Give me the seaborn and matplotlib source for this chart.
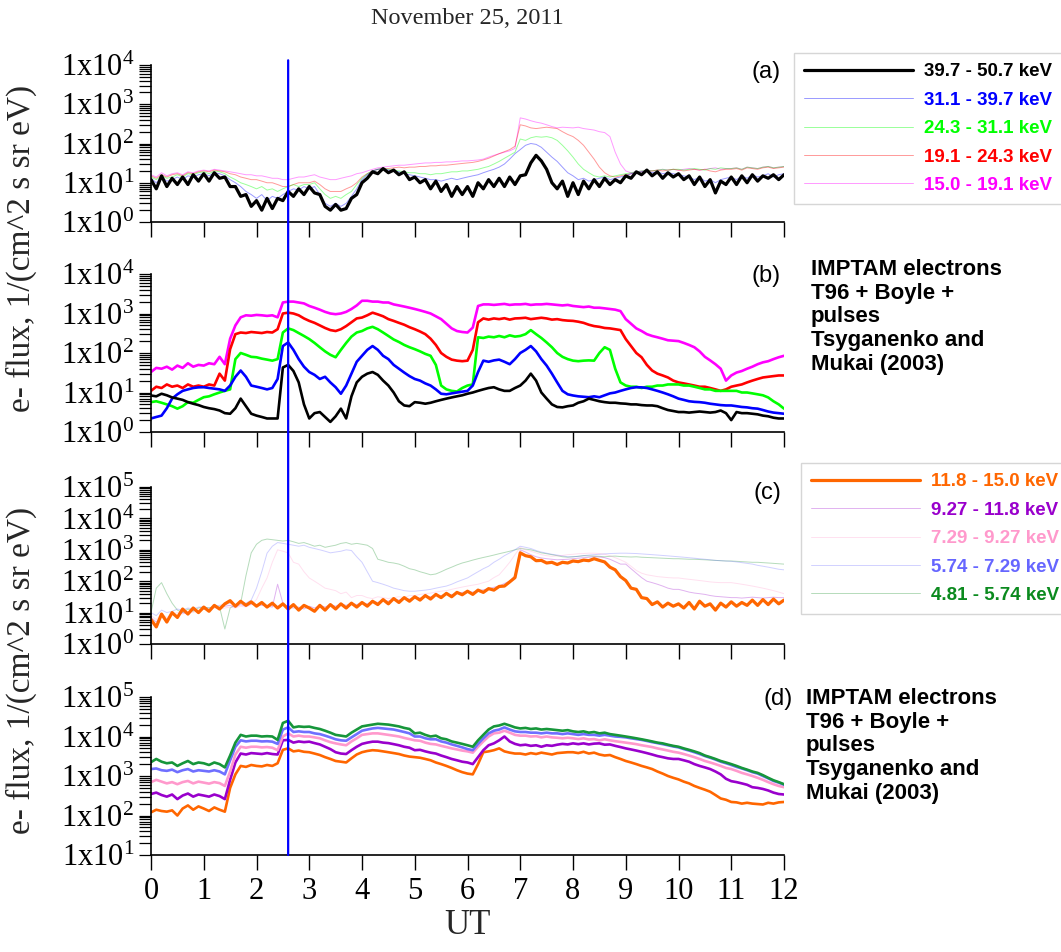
import numpy as np
import pandas as pd
import matplotlib
matplotlib.use("Agg")
import matplotlib.pyplot as plt
import seaborn as sns
from matplotlib.ticker import FixedLocator, LogLocator, FuncFormatter, NullFormatter
from matplotlib.patches import ConnectionPatch
from matplotlib.transforms import blended_transform_factory

# ---------------- data (UT hours, sampled every 0.1 h) ----------------
UT = np.round(np.arange(0, 121) / 10.0, 1)
ut_ticks = list(range(0, 13))
event_ut = 2.6

title = "November 25, 2011"
ylabel = "e- flux, 1/(cm^2 s sr eV)"
model_text = "IMPTAM electrons\nT96 + Boyle +\npulses\nTsyganenko and\nMukai (2003)"

# panel (a): observed, high energies
a_labels = ["39.7 - 50.7 keV", "31.1 - 39.7 keV", "24.3 - 31.1 keV", "19.1 - 24.3 keV", "15.0 - 19.1 keV"]
a_e1 = [12, 7, 15, 8, 13, 9, 14, 9, 16, 11,
        17, 11, 18, 13, 14, 8, 8, 4.5, 5, 2.5,
        3.5, 2, 4, 2.2, 4, 3.5, 6, 4.5, 7, 5,
        8, 5.5, 5, 2.5, 2, 2.8, 2, 2.2, 4, 5,
        10, 13, 19, 17, 23, 18, 21, 16, 19, 12,
        14, 10, 12, 7, 11, 6, 9, 4.5, 8, 5,
        8, 4.5, 10, 7, 12, 8, 13, 8, 14, 9,
        15, 16, 32, 50, 36, 22, 10, 7, 11, 4.5,
        10, 5, 11, 7, 12, 8, 13, 9, 12, 10,
        15, 13, 19, 16, 21, 15, 19, 13, 18, 14,
        17, 12, 15, 9, 14, 8, 12, 5.5, 11, 9,
        14, 9, 15, 10, 16, 11, 15, 13, 16, 12,
        16]
a_e2 = [13, 10, 14, 11, 12, 14, 12, 15, 14, 16,
        17, 15, 18, 17, 15, 12, 10, 8, 6, 5,
        4, 5, 3.5, 4.5, 4, 5, 6, 7, 6.5, 8,
        7, 8, 5, 3, 2.5, 3, 2.5, 3, 4.5, 7,
        12, 16, 20, 22, 23, 21, 20, 19, 17, 16,
        15, 14, 13, 12, 12, 11, 12, 13, 12, 13,
        14, 15, 16, 18, 20, 22, 25, 30, 40, 55,
        70, 90, 100, 95, 80, 60, 45, 35, 25, 18,
        15, 12, 13, 11, 12, 13, 14, 12, 13, 14,
        15, 17, 18, 19, 20, 18, 19, 17, 18, 17,
        16, 15, 14, 12, 14, 11, 12, 10, 12, 13,
        14, 12, 15, 13, 16, 14, 15, 17, 14, 16,
        17]
a_e3 = [14, 12, 15, 13, 14, 16, 14, 17, 16, 18,
        19, 17, 20, 19, 17, 14, 12, 10, 9, 8,
        7, 8, 6.5, 7, 6, 7, 8, 9, 8, 9,
        9, 10, 7, 5, 4, 4.5, 4, 5, 6, 9,
        13, 17, 20, 22, 23, 22, 21, 20, 19, 18,
        18, 17, 17, 16, 17, 17, 18, 19, 19, 20,
        20, 21, 22, 24, 26, 30, 35, 42, 50, 60,
        130, 120, 140, 150, 145, 150, 140, 120, 90, 65,
        45, 30, 22, 18, 15, 14, 15, 14, 15, 16,
        17, 18, 19, 20, 21, 20, 21, 22, 21, 22,
        22, 21, 22, 23, 22, 21, 23, 22, 24, 23,
        23, 24, 22, 25, 24, 23, 25, 26, 24, 25,
        26]
a_e4 = [15, 13, 16, 14, 16, 17, 15, 18, 17, 19,
        20, 19, 21, 20, 19, 17, 16, 14, 13, 12,
        12, 11, 10, 10, 9, 8, 8, 9, 10, 10,
        10, 11, 9, 7, 6, 6, 6, 7, 8, 10,
        14, 17, 20, 22, 23, 23, 24, 25, 24, 25,
        25, 26, 26, 27, 27, 28, 28, 29, 30, 31,
        32, 33, 35, 38, 42, 48, 55, 62, 70, 85,
        300, 280, 250, 240, 250, 260, 250, 240, 200, 170,
        150, 120, 90, 60, 40, 25, 18, 15, 14, 15,
        16, 17, 18, 19, 20, 20, 21, 20, 21, 22,
        21, 20, 21, 22, 21, 22, 20, 19, 21, 22,
        22, 23, 21, 24, 23, 22, 24, 25, 23, 24,
        25]
a_e5 = [16, 14, 18, 15, 17, 18, 16, 19, 18, 20,
        21, 20, 22, 21, 20, 19, 18, 17, 16, 16,
        15, 15, 14, 13, 13, 12, 12, 13, 14, 14,
        15, 16, 14, 13, 12, 12, 13, 14, 15, 17,
        18, 20, 22, 24, 25, 26, 27, 28, 28, 29,
        30, 31, 32, 32, 33, 33, 34, 34, 35, 36,
        36, 37, 38, 40, 45, 50, 55, 60, 65, 75,
        450, 420, 380, 350, 330, 300, 270, 250, 260, 255,
        250, 260, 240, 230, 220, 200, 190, 150, 60, 30,
        20, 18, 19, 20, 21, 20, 21, 22, 21, 22,
        21, 22, 23, 22, 21, 22, 23, 24, 22, 23,
        23, 24, 22, 25, 24, 23, 25, 26, 24, 25,
        26]

# panel (b): model, high energies
b_e1 = [8.4, 8, 9.3, 8.5, 7.5, 7, 6.5, 5.7, 5.2, 4.8,
        4.3, 4, 3.8, 3.5, 3, 2.9, 4, 7, 4.5, 2.9,
        2.6, 2.4, 2.2, 2.2, 2.2, 43, 50, 35, 18, 5,
        2.2, 3, 3.2, 2.4, 1.8, 2.5, 3.9, 2.2, 8, 18,
        25, 30, 33, 28, 20, 15, 10, 6, 4.7, 4.5,
        5.7, 5.5, 5.2, 5.5, 6, 6.5, 7, 7.5, 8, 8.5,
        9.3, 10, 11, 12, 13, 13.6, 12, 11, 11, 13,
        15, 20, 30, 20, 10, 7, 5, 4.3, 4.2, 4.5,
        4.7, 5.5, 6, 7, 6.5, 6, 5.7, 5.5, 5.5, 5.3,
        5.2, 5, 5, 4.8, 4.7, 4.7, 4.5, 4, 3.6, 3.4,
        3.2, 3.2, 3.1, 3.2, 3.3, 3.2, 3.1, 3.2, 3.5, 3,
        2, 3.2, 3, 3, 2.9, 2.8, 2.6, 2.5, 2.3, 2.2,
        2.2]
b_e2 = [2.2, 2.4, 2.6, 4, 7, 9, 11, 12, 13, 13.5,
        13.6, 13, 12.5, 12, 11, 15, 25, 36, 25, 15,
        14, 13, 12, 13, 22, 150, 185, 120, 70, 45,
        33, 28, 22, 25, 18, 13.6, 9.3, 15, 30, 60,
        85, 120, 150, 120, 85, 70, 50, 40, 32, 26,
        22, 20, 17, 15, 12, 9.3, 9, 9.5, 10, 10.5,
        11, 15, 33, 64, 60, 65, 68, 60, 52, 70,
        100, 120, 150, 110, 70, 48, 30, 18, 11, 9,
        8.4, 8, 7.8, 7.6, 8, 7.6, 8.5, 9.5, 10, 11,
        12, 13, 13.6, 13.5, 13, 12, 11, 10, 9, 8,
        7, 6.5, 6, 5.8, 5.7, 5.5, 5.2, 5, 4.8, 4.7,
        4.7, 4.5, 4.3, 4.2, 4, 3.9, 3.6, 3.3, 3.1, 3,
        2.9]
b_e3 = [5.7, 6, 5.5, 5, 4.5, 3.9, 4.5, 5.7, 5.5, 6.5,
        7.6, 8, 9, 10, 11, 12, 70, 100, 90, 80,
        78, 72, 68, 64, 70, 330, 420, 380, 320, 270,
        225, 180, 140, 110, 90, 78, 120, 180, 260, 330,
        360, 420, 460, 400, 330, 270, 220, 190, 160, 140,
        125, 110, 95, 85, 50, 15, 12, 11, 10.6, 13,
        15, 16, 250, 240, 260, 250, 270, 250, 280, 260,
        270, 300, 380, 300, 240, 185, 140, 100, 80, 70,
        64, 62, 64, 65, 64, 100, 140, 120, 40, 18,
        15, 14, 14, 13, 14, 14, 15, 15, 16, 16,
        16, 15, 15, 14, 13, 12, 12, 11, 11, 11,
        11, 11, 10, 10, 9.5, 9, 8.5, 7.5, 6, 5,
        3.9]
b_e4 = [11, 14, 13, 16, 14, 15, 13, 16, 14, 15,
        14, 16, 15, 30, 20, 125, 300, 330, 320, 340,
        330, 320, 340, 330, 400, 1000, 1050, 1000, 900, 750,
        650, 580, 500, 430, 380, 360, 400, 480, 600, 750,
        790, 900, 1050, 950, 850, 720, 650, 580, 520, 450,
        400, 350, 300, 230, 160, 100, 80, 68, 64, 62,
        64, 120, 600, 750, 700, 750, 720, 760, 700, 750,
        760, 780, 720, 750, 780, 750, 700, 720, 680, 660,
        650, 620, 580, 520, 480, 460, 430, 420, 400, 380,
        225, 150, 100, 78, 50, 36, 30, 27, 24, 20,
        18, 17, 16, 15, 14, 14, 13, 12, 11, 12,
        14, 15, 16, 18, 20, 22, 24, 25, 26, 27,
        27]
b_e5 = [33, 42, 40, 45, 38, 48, 42, 55, 45, 50,
        48, 55, 52, 80, 52, 230, 500, 800, 900, 880,
        920, 900, 870, 900, 800, 1900, 2000, 2000, 1900, 1800,
        1550, 1400, 1250, 1100, 1000, 960, 1000, 1100, 1300, 1600,
        2100, 2100, 2000, 2000, 1900, 1900, 1700, 1600, 1500, 1400,
        1300, 1200, 1100, 1000, 850, 720, 550, 420, 360, 340,
        330, 440, 1550, 1700, 1700, 1650, 1700, 1750, 1650, 1700,
        1700, 1750, 1650, 1700, 1700, 1750, 1700, 1650, 1600, 1650,
        1550, 1500, 1450, 1500, 1400, 1400, 1350, 1300, 1250, 1150,
        720, 550, 420, 360, 300, 270, 250, 230, 210, 205,
        200, 180, 160, 140, 110, 80, 65, 52, 40, 20,
        27, 32, 35, 40, 45, 52, 58, 62, 70, 78,
        85]

# panel (c): observed, low energies
c_labels = ["11.8 - 15.0 keV", "9.27 - 11.8 keV", "7.29 - 9.27 keV", "5.74 - 7.29 keV", "4.81 - 5.74 keV"]
c_e1 = [6, 3.5, 9, 5, 10, 7, 13, 9, 14, 10,
        15, 11, 17, 13, 19, 24, 16, 23, 17, 22,
        16, 21, 15, 20, 14, 19, 13, 18, 12, 17,
        14, 11, 17, 12, 18, 13, 19, 14, 20, 15,
        21, 16, 23, 18, 26, 19, 28, 21, 30, 23,
        32, 25, 35, 27, 38, 30, 41, 32, 44, 37,
        48, 38, 52, 44, 58, 52, 68, 70, 95, 130,
        800, 650, 600, 450, 460, 380, 400, 340, 400, 380,
        440, 420, 470, 450, 520, 460, 410, 280, 230, 140,
        105, 60, 55, 30, 28, 18, 22, 15, 20, 16,
        19, 14, 21, 13, 23, 16, 19, 12, 20, 15,
        22, 16, 21, 17, 25, 17, 26, 18, 27, 19,
        25]
c_e2 = [7, 5, 8, 6, 9, 8, 10, 9, 12, 11,
        13, 12, 15, 14, 16, 17, 15, 18, 16, 19,
        18, 17, 16, 15, 80, 20, 15, 14, 15, 13,
        16, 14, 17, 15, 18, 16, 19, 17, 20, 18,
        21, 19, 23, 21, 25, 23, 27, 25, 29, 27,
        31, 29, 33, 32, 36, 35, 39, 37, 42, 44,
        47, 45, 50, 53, 58, 64, 70, 85, 100, 150,
        1000, 850, 700, 600, 550, 520, 500, 480, 490, 500,
        520, 540, 560, 580, 600, 590, 560, 500, 420, 350,
        350, 250, 180, 130, 100, 90, 80, 70, 60, 55,
        55, 50, 45, 42, 40, 38, 35, 33, 32, 31,
        30, 30, 29, 30, 31, 30, 29, 30, 31, 30,
        30]
c_e3 = [8, 6, 9, 7, 9, 10, 9, 11, 10, 12,
        13, 12, 14, 13, 14, 15, 14, 16, 15, 18,
        26, 60, 127, 400, 1000, 900, 800, 400, 350, 200,
        127, 100, 78, 60, 55, 50, 40, 45, 30, 35,
        35, 30, 28, 32, 30, 28, 30, 32, 30, 35,
        35, 38, 40, 42, 45, 48, 50, 55, 60, 65,
        70, 75, 80, 90, 100, 130, 160, 250, 400, 700,
        1200, 1000, 900, 800, 700, 650, 620, 640, 660, 700,
        720, 750, 760, 780, 780, 760, 720, 650, 560, 480,
        400, 300, 220, 180, 160, 150, 140, 135, 130, 127,
        127, 120, 115, 110, 105, 100, 95, 92, 90, 90,
        90, 85, 80, 75, 70, 65, 60, 55, 50, 45,
        40]
c_e4 = [10, 8, 12, 10, 11, 13, 12, 14, 13, 15,
        15, 14, 16, 17, 18, 20, 18, 22, 20, 25,
        60, 200, 780, 1300, 1700, 1600, 1500, 1400, 1300, 1400,
        1200, 1100, 1000, 900, 800, 850, 900, 1000, 950, 600,
        400, 200, 100, 90, 80, 70, 60, 55, 50, 48,
        48, 50, 52, 55, 60, 65, 70, 80, 95, 110,
        127, 160, 200, 250, 300, 400, 500, 650, 800, 1000,
        1300, 1200, 1100, 950, 850, 780, 720, 680, 640, 600,
        600, 620, 650, 680, 700, 720, 740, 760, 770, 780,
        780, 770, 760, 740, 720, 700, 680, 660, 640, 620,
        600, 580, 560, 540, 520, 500, 480, 460, 450, 440,
        430, 410, 390, 370, 350, 320, 300, 280, 260, 240,
        230]
c_e5 = [10, 60, 90, 40, 20, 12, 10, 13, 11, 14,
        15, 14, 16, 15, 3, 14, 18, 20, 150, 800,
        1500, 2000, 2200, 2100, 2000, 1900, 2000, 1800, 1600, 1700,
        1500, 1300, 1400, 1200, 1300, 1400, 1600, 1700, 1500, 1600,
        1500, 1400, 1100, 500, 450, 400, 380, 350, 300, 250,
        230, 200, 180, 160, 170, 200, 240, 280, 330, 380,
        420, 470, 520, 570, 620, 680, 750, 820, 900, 1000,
        1100, 1050, 1000, 900, 800, 750, 700, 650, 600, 580,
        600, 620, 650, 640, 630, 620, 600, 620, 630, 610,
        600, 590, 600, 580, 570, 560, 550, 540, 530, 520,
        520, 510, 500, 500, 490, 480, 470, 460, 450, 440,
        440, 430, 420, 410, 400, 400, 390, 380, 370, 360,
        350]

# panel (d): model, low energies
d_e1 = [120, 140, 130, 125, 135, 100, 150, 180, 140, 170,
        150, 130, 160, 140, 125, 500, 1100, 1800, 1700, 1900,
        1800, 1750, 1900, 1800, 2100, 4600, 5000, 4200, 4400, 4100,
        4000, 3700, 3400, 3000, 2700, 2400, 2300, 2200, 2800, 3500,
        4000, 4300, 4500, 4400, 4200, 4000, 3800, 3600, 3300, 3100,
        3000, 2900, 2700, 2500, 2200, 2000, 1800, 1600, 1400, 1250,
        1150, 1100, 2000, 4000, 4200, 4500, 5000, 4200, 3900, 3700,
        3700, 3500, 3800, 3600, 3900, 3700, 3500, 3800, 3900, 4000,
        4000, 3800, 4100, 3700, 3900, 3500, 3300, 3400, 3000, 2700,
        2400, 2200, 2000, 1800, 1650, 1500, 1300, 1150, 1000, 900,
        820, 720, 650, 560, 500, 450, 400, 330, 270, 250,
        220, 215, 200, 210, 200, 195, 190, 210, 200, 215,
        220]
d_e2 = [350, 380, 330, 300, 340, 260, 320, 360, 300, 340,
        320, 300, 340, 310, 260, 800, 2200, 3700, 3500, 3800,
        3700, 3600, 3800, 3600, 3500, 8000, 8200, 7000, 7500, 7200,
        7400, 6800, 6300, 5500, 4800, 4000, 3700, 3600, 4500, 5500,
        6500, 7000, 7400, 7400, 7000, 6800, 6400, 6000, 5500, 5200,
        4500, 4600, 4200, 3900, 3700, 3300, 3000, 2700, 2500, 2300,
        2200, 2000, 3000, 4500, 6000, 6700, 8000, 10000, 7500, 6500,
        6000, 6200, 5800, 6000, 5500, 6000, 5800, 6200, 6500, 6300,
        6700, 6400, 6700, 6300, 6600, 6700, 6200, 6300, 5800, 5400,
        5000, 4700, 4400, 4100, 3800, 3500, 3200, 3000, 2800, 2700,
        2700, 2500, 2300, 2000, 1800, 1650, 1500, 1300, 1100, 850,
        740, 700, 650, 600, 520, 500, 470, 430, 380, 350,
        340]
d_e3 = [700, 800, 720, 650, 700, 620, 700, 750, 650, 720,
        680, 640, 700, 660, 560, 1300, 3500, 5500, 5200, 5500,
        5500, 5300, 5400, 5200, 4500, 10000, 12000, 10000, 10500, 10000,
        10000, 9500, 9000, 8000, 7200, 6700, 6300, 6000, 7500, 9000,
        11000, 11500, 12000, 12000, 11500, 11000, 10500, 10000, 9200, 8600,
        8000, 7800, 7000, 6500, 6300, 5800, 5400, 5000, 4700, 4400,
        4200, 3900, 5500, 7500, 10000, 12000, 12500, 14000, 12500, 11000,
        10500, 10500, 10000, 10200, 9500, 10000, 9500, 9300, 9000, 9300,
        9000, 8600, 9000, 8400, 8600, 8000, 8500, 8000, 7600, 7300,
        7000, 6700, 6400, 6000, 5700, 5400, 5000, 4700, 4400, 4100,
        3900, 3600, 3300, 3000, 2700, 2400, 2200, 2000, 1800, 1600,
        1500, 1350, 1200, 1100, 1000, 900, 800, 700, 620, 560,
        520]
d_e4 = [1500, 1550, 1400, 1350, 1450, 1250, 1400, 1500, 1300, 1400,
        1350, 1300, 1400, 1300, 1100, 2500, 5500, 8000, 7500, 7800,
        7800, 7500, 7600, 7400, 6500, 15000, 17000, 13000, 13500, 13000,
        13000, 12000, 11500, 10500, 9500, 8500, 8000, 7800, 9500, 11500,
        14000, 15000, 16000, 16500, 16000, 15500, 15000, 14000, 13000, 12000,
        10000, 10000, 9000, 8500, 8500, 7500, 7000, 6300, 5800, 5300,
        4800, 4500, 6500, 9000, 12000, 14000, 15000, 17000, 15000, 13500,
        13000, 13000, 12500, 12500, 12000, 12500, 12000, 12000, 11500, 12000,
        11500, 11000, 11500, 11000, 11000, 10500, 11000, 10500, 10000, 9800,
        9500, 9000, 8600, 8200, 7700, 7200, 6800, 6400, 6000, 5600,
        5300, 4800, 4400, 4000, 3600, 3200, 2900, 2600, 2300, 2100,
        1900, 1700, 1550, 1400, 1250, 1150, 1000, 870, 750, 680,
        600]
d_e5 = [2240, 2700, 2300, 2100, 2200, 1800, 2100, 2400, 2000, 2200,
        2100, 1900, 2200, 2000, 1650, 3300, 7000, 11000, 10000, 10500,
        10500, 10000, 10200, 10000, 8200, 22000, 25000, 17000, 18000, 17500,
        17800, 16500, 15500, 14000, 12500, 11000, 10500, 10000, 12500, 15000,
        18000, 19000, 20000, 21000, 20500, 20000, 19000, 18000, 16500, 15500,
        12000, 12500, 11000, 10000, 10500, 9000, 8500, 7500, 7000, 6500,
        6000, 5500, 8000, 11000, 15000, 18000, 19000, 21000, 19000, 17000,
        16000, 16500, 15500, 16000, 15000, 15500, 15000, 14500, 14000, 14500,
        13500, 13000, 13500, 12500, 13000, 12000, 12500, 11500, 11000, 10500,
        10000, 9500, 9000, 8500, 8000, 7500, 7000, 6700, 6200, 5800,
        5500, 5000, 4600, 4200, 3800, 3300, 3000, 2700, 2400, 2200,
        2000, 1800, 1600, 1450, 1300, 1200, 1050, 900, 780, 700,
        620]

hi_colors = ["#000000", "#0000ff", "#00ff00", "#ff0000", "#ff00ff"]
lo_colors = ["#ff6600", "#9900cc", "#ff99cc", "#6666ff", "#0b8a1e"]
lo_colors_d = ["#ff6600", "#9900cc", "#ff99cc", "#6f6fff", "#16963a"]

# ---------------- style ----------------
sns.set_style("ticks")
plt.rcParams["font.family"] = ["Liberation Serif", "DejaVu Serif"]
plt.rcParams["mathtext.fontset"] = "custom"
plt.rcParams["mathtext.rm"] = "Liberation Serif"
plt.rcParams["mathtext.it"] = "Liberation Serif"
plt.rcParams["mathtext.default"] = "regular"

W, H = 1061, 952
fig = plt.figure(figsize=(W / 100, H / 100), dpi=100)
fig.patch.set_facecolor("white")

def fbox(left, top, right, bottom):
    return [left / W, 1 - bottom / H, (right - left) / W, (bottom - top) / H]

axA = fig.add_axes(fbox(151, 65, 784, 222))
axB = fig.add_axes(fbox(151, 274, 784, 432))
axC = fig.add_axes(fbox(151, 487, 784, 644))
axD = fig.add_axes(fbox(151, 697, 784, 855))

def style_axis(ax, lo, hi, show_x):
    ax.set_yscale("log")
    ax.set_ylim(10.0 ** lo, 10.0 ** hi)
    ax.set_xlim(0, 12)
    ax.set_facecolor("white")
    for s in ["top", "right"]:
        ax.spines[s].set_visible(False)
    for s in ["left", "bottom"]:
        ax.spines[s].set_color("black")
        ax.spines[s].set_linewidth(1.2)
    ax.yaxis.set_major_locator(FixedLocator([10.0 ** k for k in range(lo, hi + 1)]))
    ax.yaxis.set_major_formatter(FuncFormatter(lambda v, p: r"$1x10^{%d}$" % int(round(np.log10(v)))))
    ax.yaxis.set_minor_locator(LogLocator(base=10, subs=np.arange(2, 10), numticks=20))
    ax.yaxis.set_minor_formatter(NullFormatter())
    ax.tick_params(axis="y", which="both", direction="out", length=9, width=0.9,
                   labelsize=22, pad=3, colors="black")
    ax.set_xticks(ut_ticks)
    ax.tick_params(axis="x", which="major", direction="out", length=11, width=1.0,
                   labelsize=22, pad=5, colors="black")
    if not show_x:
        ax.set_xticklabels([])
    ax.grid(False)
    ax.set_xlabel("")
    ax.set_ylabel("")

# ---- panel (a)
a_series = [a_e1, a_e2, a_e3, a_e4, a_e5]
for vals, col, lab in list(zip(a_series, hi_colors, a_labels))[1:][::-1]:
    sns.lineplot(x=UT, y=vals, ax=axA, color=col, lw=0.7, alpha=0.4, label=lab, legend=False)
sns.lineplot(x=UT, y=a_series[0], ax=axA, color=hi_colors[0], lw=2.3, label=a_labels[0], legend=False)
style_axis(axA, 0, 4, False)

# ---- panel (b)
b_series = [b_e1, b_e2, b_e3, b_e4, b_e5]
for vals, col in list(zip(b_series, hi_colors))[::-1]:
    sns.lineplot(x=UT, y=vals, ax=axB, color=col, lw=1.9, legend=False)
style_axis(axB, 0, 4, False)

# ---- panel (c)
c_series = [c_e1, c_e2, c_e3, c_e4, c_e5]
for vals, col, lab in list(zip(c_series, lo_colors, c_labels))[1:][::-1]:
    sns.lineplot(x=UT, y=vals, ax=axC, color=col, lw=0.7, alpha=0.3, label=lab, legend=False)
sns.lineplot(x=UT, y=c_series[0], ax=axC, color=lo_colors[0], lw=2.3, label=c_labels[0], legend=False)
style_axis(axC, 0, 5, False)

# ---- panel (d)
d_series = [d_e1, d_e2, d_e3, d_e4, d_e5]
for vals, col in zip(d_series, lo_colors_d):
    sns.lineplot(x=UT, y=vals, ax=axD, color=col, lw=1.9, legend=False)
style_axis(axD, 1, 5, True)
axD.set_xticklabels([str(t) for t in ut_ticks])

# ---- panel letters
lab_font = dict(family="Liberation Sans", size=17, color="black")
fig.text(781 / W, 1 - 72 / H, "(a)", ha="right", va="center", **lab_font)
fig.text(781 / W, 1 - 276 / H, "(b)", ha="right", va="center", **lab_font)
fig.text(781 / W, 1 - 493 / H, "(c)", ha="right", va="center", **lab_font)
fig.text(793 / W, 1 - 699 / H, "(d)", ha="right", va="center", **lab_font)

# ---- model annotation texts
ann_font = dict(family="Liberation Sans", weight="bold", size=16, color="black", linespacing=1.17)
fig.text(811 / W, 1 - 259 / H, model_text, ha="left", va="top", **ann_font)
fig.text(806 / W, 1 - 688 / H, model_text, ha="left", va="top", **ann_font)

# ---- legends
def make_legend(ax, labels, colors, anchor):
    handles = {l.get_label(): l for l in ax.get_lines()}
    hs = [handles[lab] for lab in labels]
    leg = fig.legend(hs, labels, loc="upper left", bbox_to_anchor=anchor,
                     bbox_transform=fig.transFigure, frameon=True, fancybox=False,
                     framealpha=1, edgecolor="#d6d6d6", handlelength=5.8,
                     handletextpad=0.6, borderpad=0.55, labelspacing=0.6,
                     borderaxespad=0, labelcolor=colors,
                     prop=dict(family="Liberation Sans", weight="bold", size=13.5))
    leg.get_frame().set_linewidth(1.0)
    return leg

make_legend(axA, a_labels, hi_colors, (794 / W, 1 - 53 / H))
make_legend(axC, c_labels, lo_colors, (801 / W, 1 - 463 / H))

# ---- y labels and title
fig.text(21 / W, 1 - 248 / H, ylabel, rotation=90, ha="center", va="center", fontsize=24)
fig.text(21 / W, 1 - 670 / H, ylabel, rotation=90, ha="center", va="center", fontsize=24)
fig.text(467 / W, 1 - 18 / H, title, ha="center", va="center", fontsize=17.5)
fig.text(467 / W, 1 - 925 / H, "UT", ha="center", va="center", fontsize=25)

# ---- event marker line across all panels
tA = blended_transform_factory(axA.transData, axA.transAxes)
tD = blended_transform_factory(axD.transData, axD.transAxes)
con = ConnectionPatch(xyA=(event_ut, 1.03), coordsA=tA, xyB=(event_ut, 0.0), coordsB=tD,
                      color="#0000ff", lw=1.6, zorder=10)
fig.add_artist(con)

fig.savefig("out.png", dpi=100, facecolor="white")
